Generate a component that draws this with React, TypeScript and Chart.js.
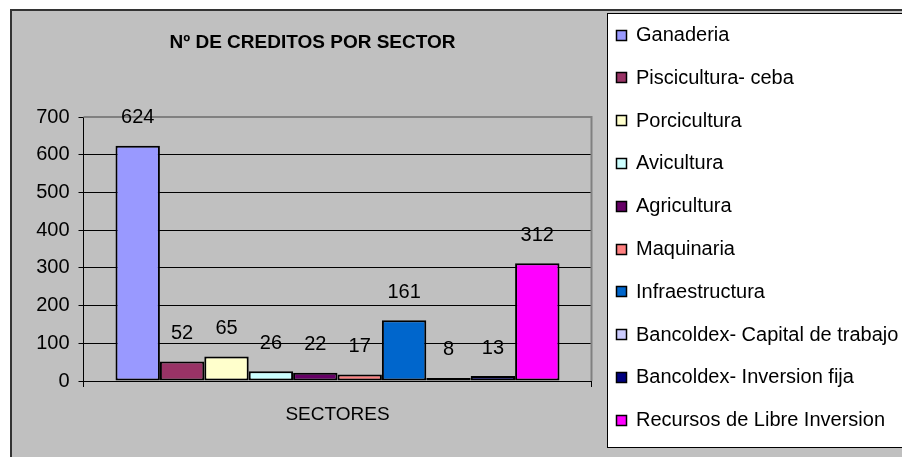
import React, { useEffect, useRef } from "react";
import { Chart, registerables } from "chart.js";

Chart.register(...registerables);

const chartTitle = "Nº DE CREDITOS POR SECTOR";
const categoryLabels = ["SECTORES"];
const seriesNames = [
  "Ganaderia",
  "Piscicultura- ceba",
  "Porcicultura",
  "Avicultura",
  "Agricultura",
  "Maquinaria",
  "Infraestructura",
  "Bancoldex- Capital de trabajo",
  "Bancoldex- Inversion fija",
  "Recursos de Libre Inversion",
];
const seriesValues = [624, 52, 65, 26, 22, 17, 161, 8, 13, 312];
const seriesColors = [
  "#9999FF",
  "#993366",
  "#FFFFCC",
  "#CCFFFF",
  "#660066",
  "#FF8080",
  "#0066CC",
  "#CCCCFF",
  "#000080",
  "#FF00FF",
];
const yTicks = [0, 100, 200, 300, 400, 500, 600, 700];

const FONT = "'Liberation Sans', Arial, sans-serif";
const GRAY = "#C0C0C0";

const framePlugin = {
  id: "frame",
  beforeDraw(chart: any) {
    const { ctx, width, height, chartArea } = chart;
    ctx.save();
    ctx.fillStyle = "#FFFFFF";
    ctx.fillRect(0, 0, width, height);
    ctx.fillStyle = GRAY;
    ctx.fillRect(12, 11, width - 12, height - 11);
    ctx.fillStyle = "#333333";
    ctx.fillRect(10, 9, width - 10, 2);
    ctx.fillRect(10, 9, 2, height - 9);
    ctx.fillStyle = GRAY;
    ctx.fillRect(chartArea.left, chartArea.top, chartArea.right - chartArea.left, chartArea.bottom - chartArea.top);
    ctx.fillStyle = "#FFFFFF";
    ctx.fillRect(607.5, 13.5, width, 434);
    ctx.strokeStyle = "#000000";
    ctx.lineWidth = 1;
    ctx.strokeRect(607.5, 13.5, width, 434);
    ctx.restore();
  },
  beforeDatasetsDraw(chart: any) {
    const { ctx, chartArea } = chart;
    ctx.save();
    ctx.strokeStyle = "#808080";
    ctx.lineWidth = 2;
    ctx.beginPath();
    ctx.moveTo(chartArea.left, chartArea.top);
    ctx.lineTo(chartArea.right, chartArea.top);
    ctx.lineTo(chartArea.right, chartArea.bottom);
    ctx.stroke();
    ctx.restore();
  },
  afterDatasetsDraw(chart: any) {
    const { ctx } = chart;
    ctx.save();
    ctx.fillStyle = "#000000";
    ctx.font = `20px ${FONT}`;
    ctx.textAlign = "center";
    ctx.textBaseline = "middle";
    chart.data.datasets.forEach((ds: any, i: number) => {
      const meta = chart.getDatasetMeta(i);
      const el = meta.data[0];
      if (!el) return;
      ctx.fillText(String(ds.data[0]), el.x, el.y - 28);
    });
    ctx.font = `bold 19px ${FONT}`;
    ctx.fillText(chartTitle, 312.5, 43);
    ctx.textAlign = "left";
    ctx.font = `20px ${FONT}`;
    chart.data.datasets.forEach((ds: any, i: number) => {
      const cy = 35.5 + i * 42.8;
      ctx.fillStyle = ds.backgroundColor;
      ctx.fillRect(616.5, Math.round(cy) - 5.5, 10, 10);
      ctx.strokeStyle = "#000000";
      ctx.lineWidth = 1.5;
      ctx.strokeRect(616.5, Math.round(cy) - 5.5, 10, 10);
      ctx.fillStyle = "#000000";
      ctx.fillText(ds.label, 636, cy);
    });
    ctx.restore();
  },
};

export default function App() {
  const ref = useRef<HTMLCanvasElement | null>(null);
  useEffect(() => {
    if (!ref.current) return;
    const chart = new Chart(ref.current, {
      type: "bar",
      data: {
        labels: categoryLabels,
        datasets: seriesNames.map((name, i) => ({
          label: name,
          data: [seriesValues[i]],
          backgroundColor: seriesColors[i],
          borderColor: "#000000",
          borderWidth: 2,
          borderSkipped: false,
          barPercentage: 1,
          categoryPercentage: 0.874,
        })),
      },
      options: {
        responsive: false,
        animation: false,
        devicePixelRatio: 1,
        layout: { padding: { left: 12, top: 117, right: 310.5, bottom: 0 } },
        plugins: {
          legend: { display: false },
          title: { display: false },
          tooltip: { enabled: false },
        },
        scales: {
          x: {
            type: "category",
            offset: true,
            grid: {
              offset: true,
              drawOnChartArea: false,
              tickLength: 6,
              color: "#000000",
            },
            border: { color: "#000000", width: 1 },
            ticks: {
              font: { family: FONT, size: 19 },
              color: "#000000",
              padding: 16,
            },
            afterFit: (scale: any) => {
              scale.height = 76;
            },
          },
          y: {
            min: 0,
            max: 700,
            afterBuildTicks: (scale: any) => {
              scale.ticks = yTicks.map((v) => ({ value: v }));
            },
            grid: {
              color: (c: any) => (c.tick && c.tick.value === 700 ? "rgba(0,0,0,0)" : "#000000"),
              tickColor: "#000000",
              tickLength: 5,
              lineWidth: 1,
            },
            border: { color: "#000000", width: 1 },
            ticks: {
              font: { family: FONT, size: 20 },
              color: "#000000",
              padding: 9,
            },
            afterFit: (scale: any) => {
              scale.width = 71.5;
            },
          },
        },
      },
      plugins: [framePlugin],
    });
    return () => chart.destroy();
  }, []);
  return (
    <div style={{ position: "absolute", left: 0, top: 0 }}>
      <canvas ref={ref} width={902} height={457} style={{ display: "block" }} />
    </div>
  );
}
